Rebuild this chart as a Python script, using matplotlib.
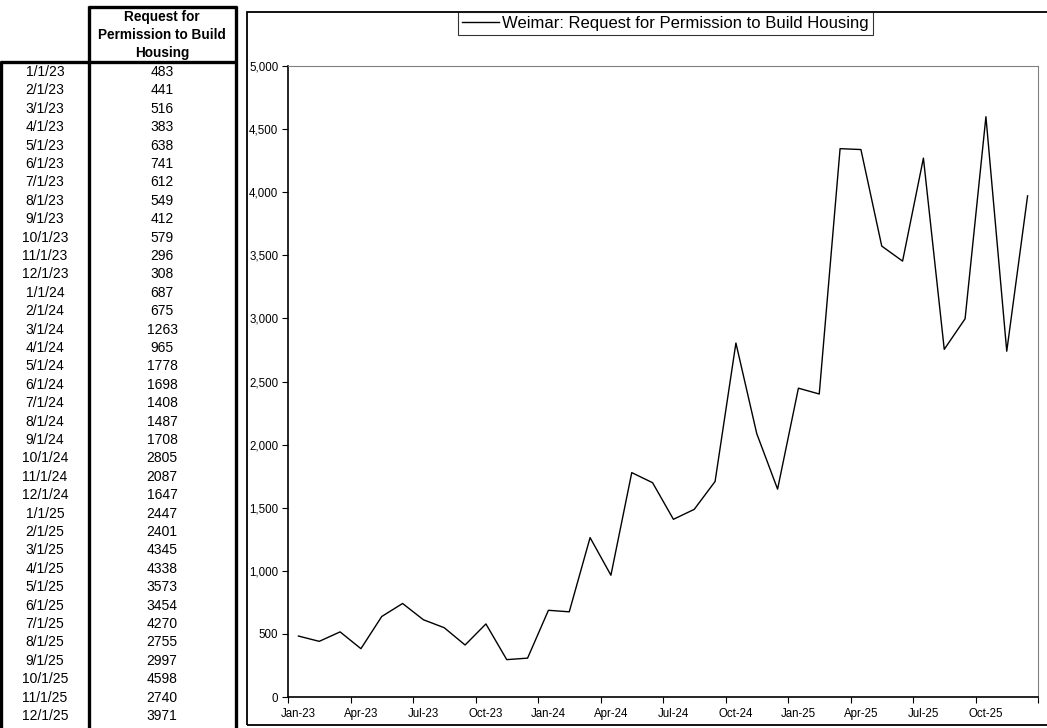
import matplotlib
matplotlib.use("Agg")
import matplotlib.pyplot as plt
from matplotlib.lines import Line2D
from matplotlib.patches import Rectangle
from matplotlib.ticker import FuncFormatter, FixedLocator

plt.rcParams['font.family'] = ['Liberation Sans', 'DejaVu Sans']

# Monthly data
dates = ["1/1/23", "2/1/23", "3/1/23", "4/1/23", "5/1/23", "6/1/23", "7/1/23", "8/1/23",
         "9/1/23", "10/1/23", "11/1/23", "12/1/23", "1/1/24", "2/1/24", "3/1/24", "4/1/24",
         "5/1/24", "6/1/24", "7/1/24", "8/1/24", "9/1/24", "10/1/24", "11/1/24", "12/1/24",
         "1/1/25", "2/1/25", "3/1/25", "4/1/25", "5/1/25", "6/1/25", "7/1/25", "8/1/25",
         "9/1/25", "10/1/25", "11/1/25", "12/1/25"]
requests = [483, 441, 516, 383, 638, 741, 612, 549, 412, 579, 296, 308,
            687, 675, 1263, 965, 1778, 1698, 1408, 1487, 1708, 2805, 2087, 1647,
            2447, 2401, 4345, 4338, 3573, 3454, 4270, 2755, 2997, 4598, 2740, 3971]
x_labels = ["Jan-23", "Apr-23", "Jul-23", "Oct-23", "Jan-24", "Apr-24",
            "Jul-24", "Oct-24", "Jan-25", "Apr-25", "Jul-25", "Oct-25"]
series_name = "Weimar: Request for Permission to Build Housing"
header = "Request for\nPermission to Build\nHousing"

W, H = 1047, 728
fig = plt.figure(figsize=(W / 100, H / 100), dpi=100)


def fx(px):
    return px / W


def fy(py):
    return 1 - py / H


def fline(x0, y0, x1, y1, lw=2.4, color="black"):
    fig.add_artist(Line2D([fx(x0), fx(x1)], [fy(y0), fy(y1)], lw=lw, color=color,
                          transform=fig.transFigure, solid_capstyle="butt"))


# ---- data table on the left ----
fline(89, 6, 89, 728)
fline(236, 6, 236, 728)
fline(1, 61, 1, 728)
fline(88, 7, 237, 7)
fline(0, 62, 237, 62)

fig.text(fx(162), fy(35), header, ha="center", va="center", fontsize=9.8,
         fontweight="bold", linespacing=1.4)

row0, row_step = 72, (716 - 72) / 35
for i, (d, v) in enumerate(zip(dates, requests)):
    yy = fy(row0 + i * row_step)
    fig.text(fx(45), yy, d, ha="center", va="center", fontsize=10)
    fig.text(fx(162), yy, f"{v}", ha="center", va="center", fontsize=10)

# ---- chart frame ----
fig.add_artist(Rectangle((fx(247), fy(725)), fx(1047 + 5) - fx(247), fy(12) - fy(725),
                         fill=False, lw=1.3, edgecolor="black",
                         transform=fig.transFigure))

ax = fig.add_axes([fx(288), fy(697), fx(1038) - fx(288), fy(66) - fy(697)])
n = len(requests)
ax.plot(range(n), requests, color="black", lw=1.0)
ax.set_xlim(-0.5, n - 0.5)
ax.set_ylim(0, 5000)

ax.set_yticks(range(0, 5001, 500))
ax.yaxis.set_major_formatter(FuncFormatter(lambda v, p: f"{int(v):,}"))
ax.tick_params(axis="y", labelsize=8.3, length=4, width=0.8, direction="out", pad=3)

ax.xaxis.set_major_locator(FixedLocator([i - 0.5 for i in range(0, n + 1, 3)]))
ax.set_xticklabels([])
ax.xaxis.set_minor_locator(FixedLocator(list(range(0, n, 3))))
ax.set_xticklabels(x_labels, minor=True)
ax.tick_params(axis="x", which="major", length=4, width=0.8, direction="out")
ax.tick_params(axis="x", which="minor", length=0, labelsize=8.3, pad=14.5)
for lbl in ax.get_xticklabels(minor=True):
    lbl.set_verticalalignment("baseline")

ax.spines["left"].set_linewidth(1.2)
ax.spines["bottom"].set_linewidth(1.2)
ax.spines["top"].set_color("#808080")
ax.spines["right"].set_color("#808080")
ax.spines["top"].set_linewidth(0.8)
ax.spines["right"].set_linewidth(0.8)

handle = Line2D([], [], color="black", lw=1.0)
leg = fig.legend([handle], [series_name], loc="upper left",
                 bbox_to_anchor=(fx(458), fy(12)), fontsize=12, frameon=True,
                 fancybox=False, handlelength=2.2, handletextpad=0.2,
                 borderpad=0.25, borderaxespad=0)
leg.get_frame().set_edgecolor("black")
leg.get_frame().set_linewidth(0.8)

fig.savefig("out.png", dpi=100)
